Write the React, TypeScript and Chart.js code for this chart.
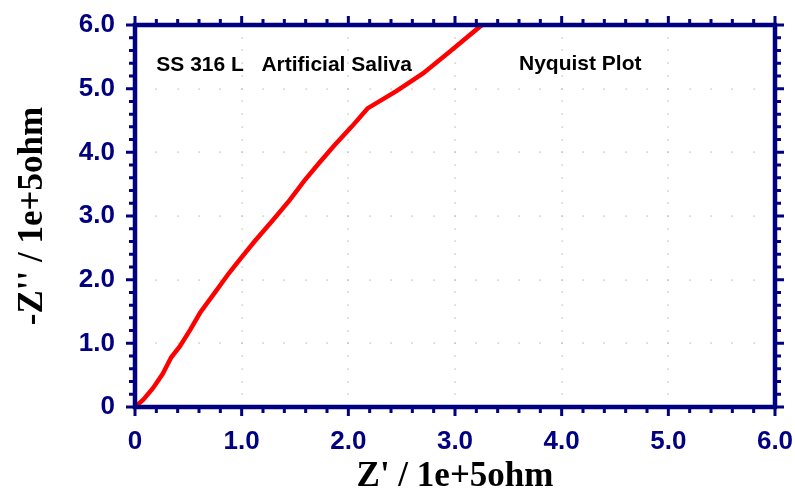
import React, { useEffect, useRef } from "react";
import { Chart, registerables } from "chart.js";

Chart.register(...registerables);

const zReal: number[] = [0, 0.08, 0.17, 0.26, 0.34, 0.42, 0.52, 0.61, 0.75, 0.88, 0.98, 1.12, 1.30, 1.45, 1.59, 1.73, 1.87, 2.03, 2.18, 2.45, 2.70, 2.95, 3.23, 3.30];
const zImag: number[] = [0, 0.12, 0.30, 0.52, 0.78, 0.95, 1.22, 1.48, 1.80, 2.10, 2.31, 2.60, 2.95, 3.25, 3.56, 3.84, 4.11, 4.40, 4.69, 4.96, 5.24, 5.58, 5.97, 6.05];
const axisMin = 0;
const axisMax = 6;
const majorStep = 1;
const minorStep = 0.2;
const annotations: string[] = ["SS 316 L   Artificial Saliva", "Nyquist Plot"];
const annotationX: number[] = [0.2, 3.6];
const annotationY: number[] = [5.37, 5.38];
const xTitle = "Z' / 1e+5ohm";
const yTitle = "-Z'' / 1e+5ohm";

const NAVY = "#000080";

const framePlugin = {
  id: "frame",
  beforeDatasetsDraw(chart: any) {
    const { ctx, scales } = chart;
    const xs = scales.x;
    const ys = scales.y;
    ctx.save();
    ctx.fillStyle = "#a9bf85";
    const n = Math.round((axisMax - axisMin) / minorStep);
    for (let M = axisMin + majorStep; M < axisMax; M += majorStep) {
      const px = xs.getPixelForValue(M);
      const py = ys.getPixelForValue(M);
      for (let i = 1; i < n; i++) {
        const v = axisMin + i * minorStep;
        ctx.fillRect(Math.round(px) - 0.5, Math.round(ys.getPixelForValue(v)) - 0.5, 1.2, 1.2);
        ctx.fillRect(Math.round(xs.getPixelForValue(v)) - 0.5, Math.round(py) - 0.5, 1.2, 1.2);
      }
    }
    ctx.fillStyle = "#000";
    ctx.font = "bold 21px 'Liberation Sans', Arial, sans-serif";
    ctx.textBaseline = "middle";
    ctx.textAlign = "left";
    annotations.forEach((t, i) => {
      ctx.fillText(t, xs.getPixelForValue(annotationX[i]), ys.getPixelForValue(annotationY[i]));
    });
    ctx.restore();
  },
  afterDraw(chart: any) {
    const { ctx, chartArea: a, scales } = chart;
    const xs = scales.x;
    const ys = scales.y;
    ctx.save();
    ctx.strokeStyle = NAVY;
    ctx.lineWidth = 3;
    const n = Math.round((axisMax - axisMin) / minorStep);
    ctx.beginPath();
    for (let i = 0; i <= n; i++) {
      const v = axisMin + i * minorStep;
      const major = i % Math.round(majorStep / minorStep) === 0;
      const len = major ? 9 : 6;
      const px = xs.getPixelForValue(v);
      const py = ys.getPixelForValue(v);
      ctx.moveTo(px, a.bottom); ctx.lineTo(px, a.bottom + len);
      ctx.moveTo(px, a.top); ctx.lineTo(px, a.top - len);
      ctx.moveTo(a.left, py); ctx.lineTo(a.left - len, py);
      ctx.moveTo(a.right, py); ctx.lineTo(a.right + len, py);
    }
    ctx.stroke();
    ctx.lineWidth = 4.5;
    ctx.strokeRect(a.left, a.top, a.right - a.left, a.bottom - a.top);
    ctx.restore();
  },
};

export default function App() {
  const ref = useRef<HTMLCanvasElement | null>(null);
  useEffect(() => {
    if (!ref.current) return;
    const fmt = (v: any) => (Number(v) === 0 ? "0" : Number(v).toFixed(1));
    const tickFont = { family: "'Liberation Sans', Arial, sans-serif", size: 26, weight: "bold" as const };
    const titleFont = { family: "'Liberation Serif', 'Times New Roman', serif", size: 35, weight: "bold" as const, lineHeight: 1 };
    const chart = new Chart(ref.current, {
      type: "line",
      data: {
        datasets: [
          {
            data: zReal.map((x, i) => ({ x, y: zImag[i] })),
            borderColor: "#ff0000",
            borderWidth: 4.5,
            pointRadius: 0,
            tension: 0,
            fill: false,
          },
        ],
      },
      options: {
        animation: false,
        responsive: true,
        maintainAspectRatio: false,
        layout: { padding: { top: 25, right: 20, left: 0, bottom: 0 } },
        plugins: { legend: { display: false }, tooltip: { enabled: false } },
        scales: {
          x: {
            type: "linear",
            min: axisMin,
            max: axisMax,
            grid: { display: false },
            border: { display: false },
            ticks: { stepSize: majorStep, color: NAVY, font: tickFont, padding: 11, maxRotation: 0, callback: fmt },
            title: { display: true, text: xTitle, color: "#000", font: titleFont, padding: { top: 0, bottom: 1 } },
            afterFit: (s: any) => { s.height = 88; s.paddingLeft = 0; s.paddingRight = 0; },
          },
          y: {
            type: "linear",
            min: axisMin,
            max: axisMax,
            grid: { display: false },
            border: { display: false },
            ticks: { stepSize: majorStep, color: NAVY, font: tickFont, padding: 12, callback: fmt },
            title: { display: true, text: yTitle, color: "#000", font: titleFont, padding: { top: 15, bottom: 0 } },
            afterFit: (s: any) => { s.width = 135; s.paddingTop = 0; s.paddingBottom = 0; },
          },
        },
      },
      plugins: [framePlugin],
    });
    return () => chart.destroy();
  }, []);
  return (
    <div style={{ position: "absolute", left: 0, top: 0, width: 795, height: 495, background: "#fff" }}>
      <canvas ref={ref} />
    </div>
  );
}
